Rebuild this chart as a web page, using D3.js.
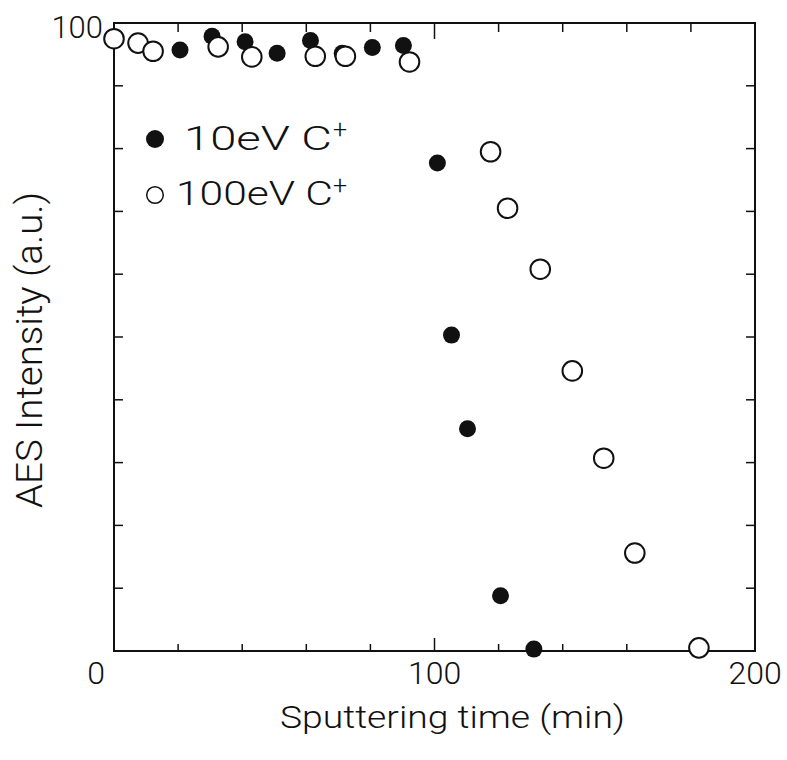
<!DOCTYPE html>
<html>
<head>
<meta charset="utf-8">
<script src="https://cdn.jsdelivr.net/npm/d3@7"></script>
<style>
  body { margin: 0; background: #fff; }
  svg text { font-family: Roboto, "Liberation Sans", Arial, sans-serif; font-weight: 300; fill: #111; }
</style>
</head>
<body>
<svg id="chart" width="787" height="760"></svg>
<script>
// Data: sputtering time (min) vs AES intensity (a.u.)
const time10 = [20.6, 30.6, 40.9, 50.9, 61.3, 71.2, 80.6, 90.3, 100.9, 105.3, 110.3, 120.6, 131];
const int10  = [95.7, 97.9, 97.0, 95.2, 97.2, 95.2, 96.1, 96.4, 77.7, 50.3, 35.4, 8.8, 0.3];
const time100 = [0, 7.5, 12.2, 32.5, 43, 62.8, 72.2, 92.2, 117.5, 122.8, 133, 143, 152.8, 162.5, 182.5];
const int100  = [97.5, 96.8, 95.5, 96.2, 94.6, 94.7, 94.7, 93.8, 79.5, 70.5, 60.8, 44.6, 30.7, 15.6, 0.5];
const xTicks = [20, 40, 60, 80, 100, 120, 140, 160, 180];
const yTicks = [10, 20, 30, 40, 50, 60, 70, 80, 90];
const xLabels = [0, 100, 200];

const pLeft = 114, pRight = 755, pTop = 23, pBottom = 651;
const svg = d3.select("#chart");

const x = d3.scaleLinear().domain([0, 200]).range([pLeft, pRight]);
const y = d3.scaleLinear().domain([0, 100]).range([pBottom, pTop]);

// Frame
svg.append("rect")
  .attr("x", pLeft).attr("y", pTop)
  .attr("width", pRight - pLeft).attr("height", pBottom - pTop)
  .attr("fill", "none").attr("stroke", "#111").attr("stroke-width", 2);

// Inward ticks
svg.append("g").selectAll("line").data(xTicks).enter().append("line")
  .attr("x1", d => x(d)).attr("x2", d => x(d))
  .attr("y1", pBottom).attr("y2", d => pBottom - (d === 100 ? 13 : 7))
  .attr("stroke", "#111").attr("stroke-width", 1.5);
svg.append("g").selectAll("line").data(xTicks).enter().append("line")
  .attr("x1", d => x(d)).attr("x2", d => x(d))
  .attr("y1", pTop).attr("y2", d => pTop + (d === 100 ? 16 : 9))
  .attr("stroke", "#111").attr("stroke-width", 1.5);
svg.append("g").selectAll("line").data(yTicks).enter().append("line")
  .attr("x1", pLeft).attr("x2", pLeft + 9)
  .attr("y1", d => y(d)).attr("y2", d => y(d))
  .attr("stroke", "#111").attr("stroke-width", 1.5);
svg.append("g").selectAll("line").data(yTicks).enter().append("line")
  .attr("x1", pRight).attr("x2", pRight - 9)
  .attr("y1", d => y(d)).attr("y2", d => y(d))
  .attr("stroke", "#111").attr("stroke-width", 1.5);

// Tick labels
const labelShift = { 0: -18, 100: 0, 200: 0 };
svg.append("g").selectAll("text").data(xLabels).enter().append("text")
  .attr("x", d => x(d) + labelShift[d]).attr("y", 684)
  .attr("text-anchor", "middle").attr("font-size", 32)
  .text(d => d);
svg.append("text").attr("x", 103).attr("y", 38).attr("text-anchor", "end")
  .attr("font-size", 31).text("100");

// Axis titles
svg.append("text").attr("x", 280).attr("y", 728)
  .attr("font-size", 31).attr("textLength", 345).attr("lengthAdjust", "spacingAndGlyphs")
  .text("Sputtering time (min)");
svg.append("text").attr("transform", "translate(42,508) rotate(-90)")
  .attr("font-size", 36).attr("textLength", 316).attr("lengthAdjust", "spacingAndGlyphs")
  .text("AES Intensity (a.u.)");

// Points
svg.append("g").selectAll("circle").data(time10.map((t, i) => [t, int10[i]])).enter()
  .append("circle")
  .attr("cx", d => x(d[0])).attr("cy", d => y(d[1])).attr("r", 8.5)
  .attr("fill", "#111");
svg.append("g").selectAll("circle").data(time100.map((t, i) => [t, int100[i]])).enter()
  .append("circle")
  .attr("cx", d => x(d[0])).attr("cy", d => y(d[1])).attr("r", 9.8)
  .attr("fill", "#fff").attr("stroke", "#111").attr("stroke-width", 2);

// Legend
const legend = svg.append("g");
legend.append("circle").attr("cx", 155).attr("cy", 139).attr("r", 9).attr("fill", "#111");
legend.append("circle").attr("cx", 155).attr("cy", 195).attr("r", 8.3)
  .attr("fill", "#fff").attr("stroke", "#111").attr("stroke-width", 1.5);
legend.append("text").attr("x", 184).attr("y", 150).attr("font-size", 33)
  .attr("textLength", 148).attr("lengthAdjust", "spacingAndGlyphs").text("10eV C");
legend.append("text").attr("x", 333).attr("y", 138).attr("font-size", 25).text("+");
legend.append("text").attr("x", 176).attr("y", 205).attr("font-size", 33)
  .attr("textLength", 157).attr("lengthAdjust", "spacingAndGlyphs").text("100eV C");
legend.append("text").attr("x", 333).attr("y", 194).attr("font-size", 25).text("+");
</script>
</body>
</html>
